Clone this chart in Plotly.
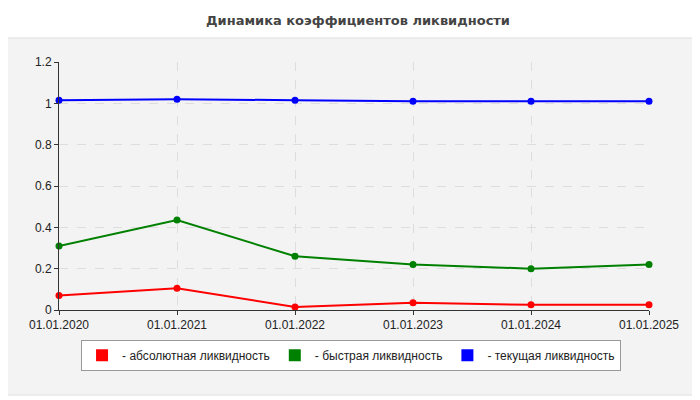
import plotly.graph_objects as go

dates = ["01.01.2020", "01.01.2021", "01.01.2022", "01.01.2023", "01.01.2024", "01.01.2025"]
absolute = [0.07, 0.105, 0.015, 0.035, 0.025, 0.025]
quick = [0.31, 0.435, 0.26, 0.22, 0.2, 0.22]
current = [1.015, 1.02, 1.015, 1.01, 1.01, 1.01]

series = [
    ("- абсолютная ликвидность", absolute, "#ff0000"),
    ("- быстрая ликвидность", quick, "#008000"),
    ("- текущая ликвидность", current, "#0000ff"),
]

fig = go.Figure()
for name, vals, color in series:
    fig.add_trace(go.Scatter(x=dates, y=vals, mode="lines+markers", showlegend=False,
                             line=dict(color=color, width=2), marker=dict(color=color, size=7),
                             cliponaxis=False, hoverinfo="y"))
# legend swatches
for name, vals, color in series:
    fig.add_trace(go.Scatter(x=[None], y=[None], mode="markers", name=name,
                             marker=dict(color=color, symbol="square", size=12)))

fig.update_layout(
    width=700, height=400,
    margin=dict(l=51, r=59, t=54, b=98),
    paper_bgcolor="white",
    plot_bgcolor="#fcfcf6",
    font=dict(family="Liberation Sans, Arial", size=12, color="#222"),
    title=dict(text="<b>Динамика коэффициентов ликвидности</b>", x=0.5, y=0.97,
               xanchor="center", yanchor="middle",
               font=dict(family="DejaVu Sans", size=13, color="#444")),
    legend=dict(orientation="h", x=0.495, y=-0.12, xanchor="center", yanchor="top",
                bgcolor="white", bordercolor="#999", borderwidth=1,
                font=dict(size=12), itemwidth=30, tracegroupgap=0),
    shapes=[dict(type="rect", xref="paper", yref="paper", x0=-0.095, x1=1.085,
                 y0=-0.343, y1=1.097, fillcolor="#f3f3f3", line=dict(color="#e0e0e0", width=1),
                 layer="below")],
)
fig.update_xaxes(type="category", range=[0, 5], showline=True, linecolor="#333",
                 ticks="outside", ticklen=4, tickcolor="#333",
                 showgrid=True, gridcolor="#dddddd", griddash="dash", zeroline=False)
fig.update_yaxes(range=[0, 1.2], tickvals=[0, 0.2, 0.4, 0.6, 0.8, 1, 1.2],
                 ticktext=["0", "0.2", "0.4", "0.6", "0.8", "1", "1.2"],
                 showline=True, linecolor="#333", ticks="outside", ticklen=4, tickcolor="#333",
                 showgrid=True, gridcolor="#dddddd", griddash="dash", zeroline=False)

fig.write_html("out.html")
